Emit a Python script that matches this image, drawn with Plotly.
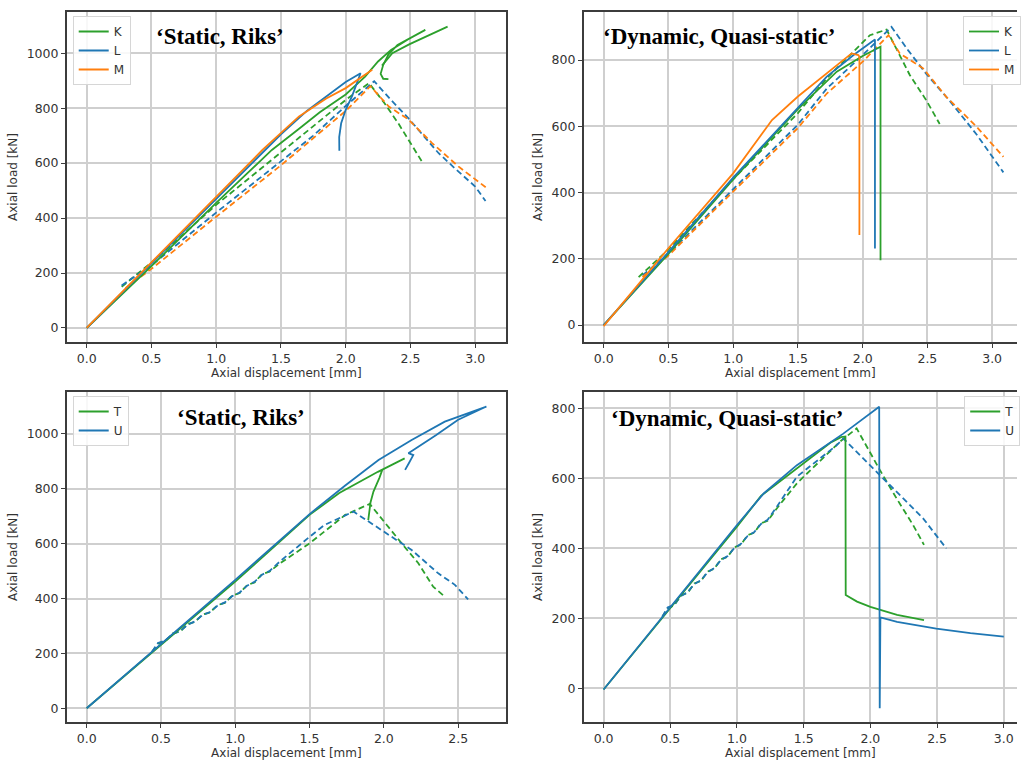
import plotly.graph_objects as go

# ---------------- data ----------------
# Panel 1: 'Static, Riks'  (K, L, M)
p1_K_solid_x = [0, 0.5, 1.0, 1.43, 1.64, 1.8, 2.0, 2.15, 2.25, 2.35, 2.48, 2.615, 2.5, 2.4, 2.33, 2.29, 2.27, 2.29, 2.33, None, 2.28, 2.36, 2.49, 2.63, 2.787]
p1_K_solid_y = [0, 225, 455, 648, 725, 785, 850, 915, 970, 1012, 1050, 1085, 1058, 1030, 995, 958, 925, 907, 906, None, 955, 1000, 1032, 1062, 1097]
p1_L_solid_x = [0, 0.5, 1.0, 1.5, 1.7, 1.9, 2.0, 2.115, 2.09, 2.05, 2.0, 1.965, 1.95, 1.951]
p1_L_solid_y = [0, 235, 470, 705, 790, 862, 895, 927, 893, 845, 794, 745, 695, 645]
p1_M_solid_x = [0, 0.5, 1.0, 1.357, 1.64, 1.85, 2.0, 2.1, 2.205]
p1_M_solid_y = [0, 240, 478, 648, 770, 835, 873, 905, 940]
p1_K_dash_x = [0.27, 0.5, 1.0, 1.5, 1.75, 2.0, 2.18, 2.3, 2.41, 2.5, 2.587]
p1_K_dash_y = [150, 238, 448, 640, 735, 830, 891, 818, 742, 675, 607]
p1_L_dash_x = [0.27, 0.5, 1.0, 1.5, 1.75, 2.0, 2.22, 2.35, 2.487, 2.6, 2.718, 2.85, 3.0, 3.08]
p1_L_dash_y = [155, 228, 420, 608, 700, 808, 898, 830, 762, 700, 636, 578, 515, 462]
p1_M_dash_x = [0.3, 0.5, 1.0, 1.5, 2.0, 2.19, 2.333, 2.487, 2.667, 2.87, 3.09]
p1_M_dash_y = [145, 215, 405, 592, 790, 880, 806, 758, 673, 588, 509]

# Panel 2: 'Dynamic, Quasi-static'  (K, L, M)
p2_K_solid_x = [0, 0.5, 1.0, 1.5, 1.8, 2.0, 2.138, 2.138]
p2_K_solid_y = [0, 215, 440, 652, 765, 812, 840, 196]
p2_L_solid_x = [0, 0.5, 1.0, 1.5, 1.723, 1.93, 2.095, 2.095]
p2_L_solid_y = [0, 220, 445, 655, 750, 815, 862, 231]
p2_M_solid_x = [0, 0.5, 1.0, 1.3, 1.5, 1.723, 1.915, 1.967, 1.975, 1.975]
p2_M_solid_y = [-3, 232, 458, 619, 690, 760, 820, 815, 810, 272]
p2_K_dash_x = [0.27, 0.5, 1.0, 1.5, 1.723, 2.056, 2.185, 2.364, 2.492, 2.595]
p2_K_dash_y = [145, 228, 440, 640, 745, 875, 892, 755, 678, 607]
p2_L_dash_x = [0.3, 0.5, 1.0, 1.5, 1.723, 2.0, 2.223, 2.35, 2.492, 2.672, 2.877, 3.087]
p2_L_dash_y = [150, 215, 410, 605, 714, 815, 900, 830, 758, 677, 577, 461]
p2_M_dash_x = [0.3, 0.5, 1.0, 1.5, 1.723, 2.0, 2.2, 2.287, 2.467, 2.646, 2.877, 3.087]
p2_M_dash_y = [145, 210, 403, 595, 699, 795, 875, 820, 775, 689, 600, 508]

# Panel 3: 'Static, Riks'  (T, U)
p3_T_solid_x = [0, 0.45, 1.0, 1.5, 1.7, 1.96, 2.14, 2.05, 1.99, 1.97, 1.93, 1.91, 1.895]
p3_T_solid_y = [0, 207, 462, 705, 785, 862, 911, 885, 870, 840, 790, 750, 686]
p3_U_solid_x = [0, 0.45, 1.0, 1.5, 1.74, 1.964, 2.187, 2.41, 2.69, 2.5, 2.35, 2.165, 2.198, 2.17, 2.143]
p3_U_solid_y = [0, 210, 468, 708, 812, 905, 978, 1045, 1100, 1052, 995, 930, 923, 895, 869]
p3_T_dash_x = [0.44, 0.48, 0.53, 0.58, 0.63, 0.68, 0.73, 0.78, 0.83, 0.88, 0.93, 0.98, 1.03, 1.08, 1.13, 1.18, 1.23, 1.3, 1.5, 1.74, 1.905, 2.0, 2.12, 2.232, 2.332, 2.41]
p3_T_dash_y = [206, 236, 245, 273, 280, 307, 315, 342, 349, 376, 384, 411, 420, 449, 459, 489, 498, 528, 601, 705, 745, 680, 601, 529, 443, 407]
p3_U_dash_x = [0.44, 0.48, 0.53, 0.58, 0.63, 0.68, 0.73, 0.78, 0.83, 0.88, 0.93, 0.98, 1.03, 1.08, 1.13, 1.18, 1.23, 1.3, 1.5, 1.6, 1.796, 1.964, 2.187, 2.366, 2.478, 2.567]
p3_U_dash_y = [206, 238, 247, 271, 282, 305, 317, 340, 351, 374, 386, 409, 422, 447, 461, 487, 500, 535, 625, 668, 717, 656, 577, 492, 450, 397]

# Panel 4: 'Dynamic, Quasi-static'  (T, U)
p4_T_solid_x = [0, 0.45, 1.0, 1.18, 1.5, 1.7, 1.78, 1.813, 1.815, 1.9, 2.0, 2.2, 2.402]
p4_T_solid_y = [-3, 207, 462, 550, 645, 702, 718, 720, 267, 248, 233, 210, 195]
p4_U_solid_x = [0, 0.45, 1.0, 1.2, 1.449, 1.797, 2.066, 2.07, 2.075, 2.2, 2.494, 2.75, 3.0]
p4_U_solid_y = [-3, 210, 467, 557, 638, 728, 805, -57, 203, 190, 171, 158, 148]
p4_T_dash_x = [0.44, 0.48, 0.53, 0.58, 0.63, 0.68, 0.73, 0.78, 0.83, 0.88, 0.93, 0.98, 1.03, 1.08, 1.13, 1.18, 1.23, 1.3, 1.449, 1.772, 1.897, 2.071, 2.196, 2.32, 2.402]
p4_T_dash_y = [205, 228, 238, 266, 273, 300, 307, 334, 342, 369, 376, 403, 411, 438, 445, 472, 479, 515, 586, 705, 743, 624, 543, 467, 410]
p4_U_dash_x = [0.44, 0.48, 0.53, 0.58, 0.63, 0.68, 0.73, 0.78, 0.83, 0.88, 0.93, 0.98, 1.03, 1.08, 1.13, 1.18, 1.23, 1.3, 1.449, 1.748, 1.797, 2.046, 2.196, 2.395, 2.569]
p4_U_dash_y = [205, 231, 240, 264, 275, 298, 309, 332, 344, 367, 378, 401, 413, 436, 447, 470, 482, 520, 605, 695, 714, 619, 562, 486, 400]

panel_titles = ["\u2018Static, Riks\u2019", "\u2018Dynamic, Quasi-static\u2019",
                "\u2018Static, Riks\u2019", "\u2018Dynamic, Quasi-static\u2019"]
x_label = "Axial displacement [mm]"
y_label = "Axial load [kN]"

GREEN, BLUE, ORANGE = "#2ca02c", "#1f77b4", "#ff7f0e"

# ---------------- figure ----------------
W, H = 1021, 760
fig = go.Figure()


def add(x, y, color, name, xa, ya, legend, dashed=False, show=True):
    fig.add_trace(go.Scatter(
        x=x, y=y, mode="lines", name=name,
        line=dict(color=color, width=1.8, dash="6px,3.5px" if dashed else "solid"),
        xaxis=xa, yaxis=ya, legend=legend, showlegend=show and not dashed,
        connectgaps=False, hoverinfo="skip"))


# panel 1
add(p1_K_dash_x, p1_K_dash_y, GREEN, "K", "x", "y", "legend", True)
add(p1_L_dash_x, p1_L_dash_y, BLUE, "L", "x", "y", "legend", True)
add(p1_M_dash_x, p1_M_dash_y, ORANGE, "M", "x", "y", "legend", True)
add(p1_K_solid_x, p1_K_solid_y, GREEN, "K", "x", "y", "legend")
add(p1_L_solid_x, p1_L_solid_y, BLUE, "L", "x", "y", "legend")
add(p1_M_solid_x, p1_M_solid_y, ORANGE, "M", "x", "y", "legend")
# panel 2
add(p2_K_dash_x, p2_K_dash_y, GREEN, "K", "x2", "y2", "legend2", True)
add(p2_L_dash_x, p2_L_dash_y, BLUE, "L", "x2", "y2", "legend2", True)
add(p2_M_dash_x, p2_M_dash_y, ORANGE, "M", "x2", "y2", "legend2", True)
add(p2_K_solid_x, p2_K_solid_y, GREEN, "K", "x2", "y2", "legend2")
add(p2_L_solid_x, p2_L_solid_y, BLUE, "L", "x2", "y2", "legend2")
add(p2_M_solid_x, p2_M_solid_y, ORANGE, "M", "x2", "y2", "legend2")
# panel 3
add(p3_T_dash_x, p3_T_dash_y, GREEN, "T", "x3", "y3", "legend3", True)
add(p3_U_dash_x, p3_U_dash_y, BLUE, "U", "x3", "y3", "legend3", True)
add(p3_T_solid_x, p3_T_solid_y, GREEN, "T", "x3", "y3", "legend3")
add(p3_U_solid_x, p3_U_solid_y, BLUE, "U", "x3", "y3", "legend3")
# panel 4
add(p4_T_dash_x, p4_T_dash_y, GREEN, "T", "x4", "y4", "legend4", True)
add(p4_U_dash_x, p4_U_dash_y, BLUE, "U", "x4", "y4", "legend4", True)
add(p4_T_solid_x, p4_T_solid_y, GREEN, "T", "x4", "y4", "legend4")
add(p4_U_solid_x, p4_U_solid_y, BLUE, "U", "x4", "y4", "legend4")

FONT = "DejaVu Sans"
TXT = "#333333"


def axis(domain, rng, dtick, mirror=True, fmt=None, title=None, standoff=None):
    d = dict(domain=domain, range=rng, dtick=dtick, tick0=0,
             showline=True, linecolor="#3c3c3c", linewidth=1.5, mirror=mirror,
             ticks="outside", ticklen=4, tickwidth=1.2, tickcolor="#3c3c3c",
             showgrid=True, gridcolor="#cfcfcf", gridwidth=1.5, zeroline=False,
             tickfont=dict(family=FONT, size=12.5, color=TXT))
    if fmt:
        d["tickformat"] = fmt
    if title:
        d["title"] = dict(text=title, font=dict(family=FONT, size=12, color=TXT),
                          standoff=standoff)
    return d


xL = [67 / W, 508 / W]
xR = [586 / W, 1.0]
yT = [1 - 342 / H, 1 - 12 / H]
yB = [1 - 722 / H, 1 - 392 / H]

fig.update_layout(
    width=W, height=H, margin=dict(l=0, r=0, t=0, b=0),
    plot_bgcolor="white", paper_bgcolor="white",
    xaxis=axis(xL, [-0.154, 3.238], 0.5, True, ".1f", x_label, 4),
    yaxis=axis(yT, [-51, 1150], 200, True, None, y_label, 6),
    xaxis2=axis(xR, [-0.154, 3.192], 0.5, True, ".1f", x_label, 4),
    yaxis2=axis(yT, [-51, 945], 200, False, None, y_label, 6),
    xaxis3=axis(xL, [-0.134, 2.822], 0.5, True, ".1f", x_label, 4),
    yaxis3=axis(yB, [-50, 1153], 200, True, None, y_label, 6),
    xaxis4=axis(xR, [-0.149, 3.099], 0.5, True, ".1f", x_label, 4),
    yaxis4=axis(yB, [-96, 847], 200, False, None, y_label, 6),
)
for k, ax in [("yaxis", "x"), ("yaxis2", "x2"), ("yaxis3", "x3"), ("yaxis4", "x4")]:
    fig.layout[k].anchor = ax
for k, ay in [("xaxis", "y"), ("xaxis2", "y2"), ("xaxis3", "y3"), ("xaxis4", "y4")]:
    fig.layout[k].anchor = ay

leg = dict(bgcolor="rgba(255,255,255,0.85)", bordercolor="#d6d6d6", borderwidth=1,
           font=dict(family=FONT, size=12, color=TXT), itemwidth=30,
           xanchor="left", yanchor="top", tracegroupgap=0)
fig.update_layout(
    legend=dict(leg, x=73 / W, y=1 - 16 / H),
    legend2=dict(leg, x=967 / W, y=1 - 16 / H),
    legend3=dict(leg, x=73 / W, y=1 - 396 / H),
    legend4=dict(leg, x=968 / W, y=1 - 396 / H),
)

title_pos = [(221, 37), (722, 37), (242, 417), (730, 418)]
for t, (px, py) in zip(panel_titles, title_pos):
    fig.add_annotation(text=t, x=px / W, y=1 - py / H, xref="paper", yref="paper",
                       showarrow=False, xanchor="center", yanchor="middle",
                       font=dict(family="Liberation Serif", size=23, color="black", weight="bold"))

fig.write_html("out.html")
